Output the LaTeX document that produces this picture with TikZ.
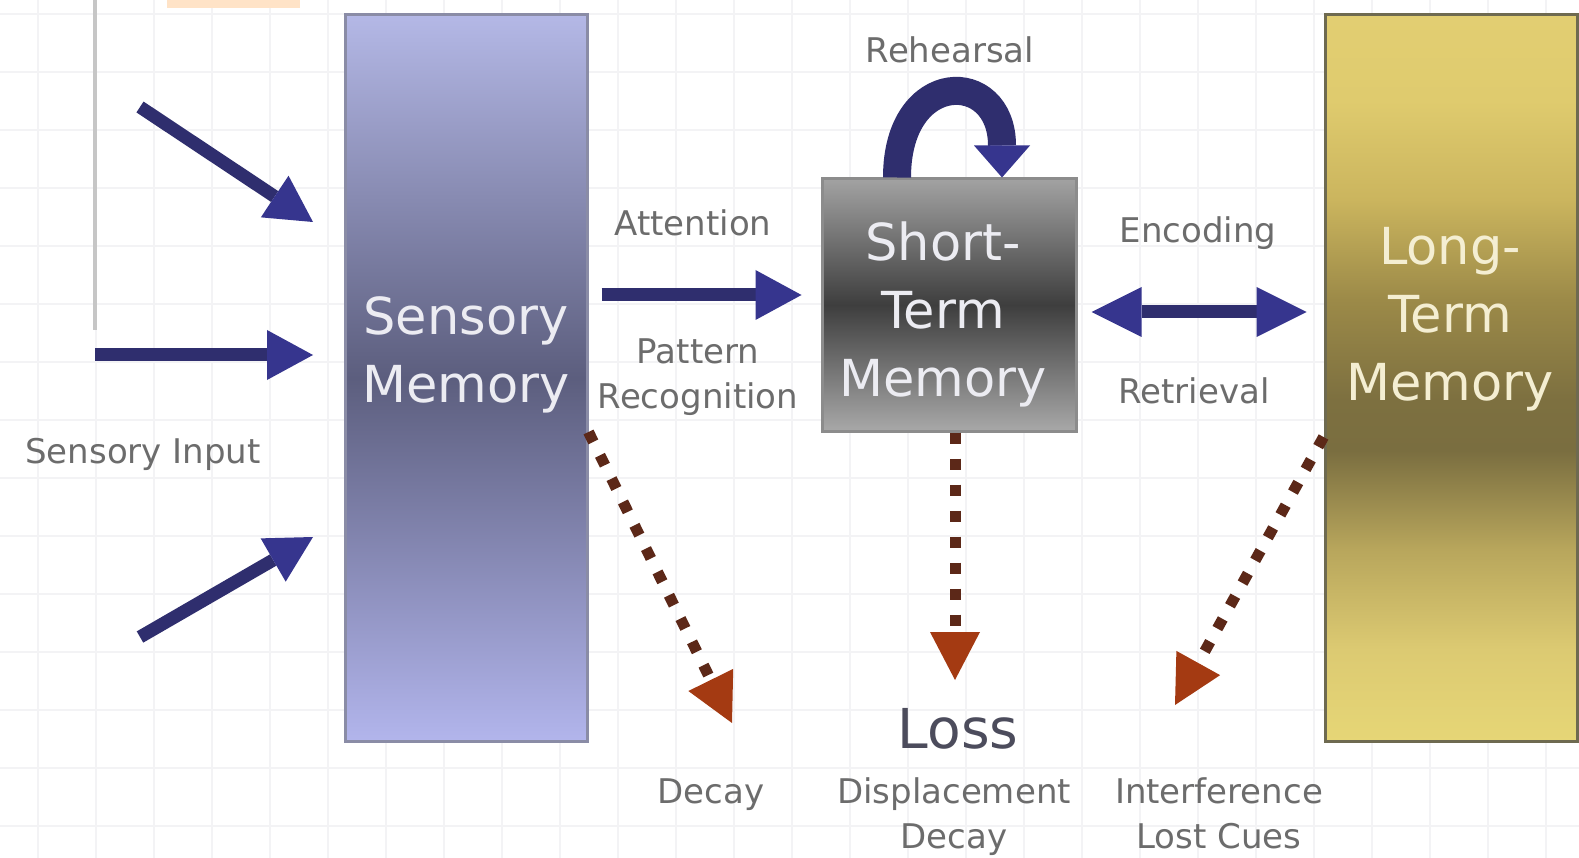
\documentclass[tikz,border=0pt]{standalone}
\usepackage{fontspec}
\setmainfont{DejaVu Sans}
\usetikzlibrary{arrows.meta,calc}
\definecolor{navy}{HTML}{2F2E6E}
\definecolor{navyhead}{HTML}{36358E}
\definecolor{dotbrown}{HTML}{5C2818}
\definecolor{rust}{HTML}{A43A12}
\definecolor{lblgray}{HTML}{6C6C6C}
\definecolor{lossgray}{HTML}{4C4C5C}
\definecolor{gridc}{HTML}{F3F3F5}
\definecolor{sensTop}{HTML}{B4B8E6}
\definecolor{sensMid}{HTML}{5C5E7E}
\definecolor{sensBot}{HTML}{B2B5EC}
\definecolor{sensEdge}{HTML}{8A8CA6}
\definecolor{stmTop}{HTML}{A2A2A2}
\definecolor{stmMid}{HTML}{3E3E3E}
\definecolor{stmBot}{HTML}{A8A8A8}
\definecolor{stmEdge}{HTML}{8C8C8C}
\definecolor{ltmEdge}{HTML}{6E6A50}
\definecolor{boxtxt}{HTML}{ECECF2}
\definecolor{ltmtxt}{HTML}{F4EED2}
\definecolor{ltmA}{HTML}{E6D676}
\definecolor{ltmB}{HTML}{DCCA72}
\definecolor{ltmC}{HTML}{B8A65C}
\definecolor{ltmD}{HTML}{7A6E40}
\definecolor{ltmE}{HTML}{7D7040}
\definecolor{ltmF}{HTML}{9C8A48}
\definecolor{ltmG}{HTML}{CBB55E}
\definecolor{ltmH}{HTML}{DFCB6E}
\definecolor{ltmI}{HTML}{E2CE72}
\pgfdeclareverticalshading{ltmshade}{100bp}{%
  color(0bp)=(ltmA); color(25bp)=(ltmA); color(31.3bp)=(ltmB); color(38.2bp)=(ltmC);
  color(45bp)=(ltmD); color(48.5bp)=(ltmE); color(55.4bp)=(ltmF); color(62.3bp)=(ltmG);
  color(69.1bp)=(ltmH); color(75bp)=(ltmI); color(100bp)=(ltmI)}
\begin{document}
\begin{tikzpicture}[x=1pt,y=-1pt,
  gridline/.style={draw=gridc, line width=1.5pt},
  lbl/.style={text=lblgray, font=\fontsize{34}{45}\selectfont, inner sep=0pt, anchor=base, align=center},
  bigtxt/.style={font=\fontsize{51}{68}\selectfont, inner sep=0pt, anchor=base, align=center},
  membox/.style={rectangle, inner sep=0pt, line width=3pt},
  navyarrow/.style={draw=navy, line width=13pt, -{Triangle[length=46pt,width=50pt,line width=0pt,color=navyhead,fill=navyhead]}},
  dblarrow/.style={draw=navy, line width=13pt, {Triangle[length=50pt,width=50pt,line width=0pt,color=navyhead,fill=navyhead]}-{Triangle[length=50pt,width=50pt,line width=0pt,color=navyhead,fill=navyhead]}},
  looparrow/.style={draw=navy, line width=28pt, -{Triangle[length=32pt,width=56pt,line width=0pt,color=navyhead,fill=navyhead]}},
  dotarrow/.style={draw=dotbrown, line width=11pt, dash pattern=on 11pt off 15pt, -{Triangle[length=48pt,width=50pt,line width=0pt,color=rust,fill=rust]}}
]
\useasboundingbox (0,0) rectangle (1579,858);
\fill[white] (0,0) rectangle (1579,858);
% faint grid
\foreach \gx in {38,96,...,1579} \draw[gridline] (\gx,0) -- (\gx,858);
\foreach \gy in {14,72,...,858} \draw[gridline] (0,\gy) -- (1579,\gy);
% top-left decorations
\fill[orange!22] (167,0) rectangle (300,8);
\draw[draw=gray!45, line width=4pt] (95,0) -- (95,330);

% memory boxes
\node[membox, draw=sensEdge, top color=sensTop, bottom color=sensBot, middle color=sensMid,
      minimum width=242pt, minimum height=726pt] (sm) at (466,378) {};
\node[membox, draw=stmEdge, top color=stmTop, bottom color=stmBot, middle color=stmMid,
      minimum width=254pt, minimum height=252pt] (stm) at (949,305) {};
\node[membox, draw=ltmEdge, shading=ltmshade,
      minimum width=252pt, minimum height=726pt] (ltm) at (1451,378) {};

\node[bigtxt, text=boxtxt] (smtext) at (466,402) {Sensory\\Memory};
\node[bigtxt, text=boxtxt] (stmtext) at (943,396) {Short-\\Term\\Memory};
\node[bigtxt, text=ltmtxt] (ltmtext) at (1450,400) {Long-\\Term\\Memory};

% labels
\node[lbl] (input) at (143,463) {Sensory Input};
\node[lbl] (attn) at (693,236) {Attention};
\node[lbl] (pattern) at (698,408) {Pattern\\Recognition};
\node[lbl] (rehearsal) at (950,63) {Rehearsal};
\node[lbl] (encoding) at (1198,243) {Encoding};
\node[lbl] (retrieval) at (1194,403) {Retrieval};
\node[text=lossgray, font=\fontsize{55}{60}\selectfont, inner sep=0pt, anchor=base] (loss) at (958,748) {Loss};
\node[lbl] (decay) at (711,803) {Decay};
\node[lbl] (displ) at (954,848) {Displacement\\Decay};
\node[lbl] (interf) at (1219,848) {Interference\\Lost Cues};

% sensory input arrows
\coordinate (in1) at (140,107);
\coordinate (in1t) at (313,222);
\coordinate (in2) at (95,355);
\coordinate (in2t) at (313,355);
\coordinate (in3) at (140,637);
\coordinate (in3t) at (313,537);
\draw[navyarrow] (in1) -- (in1t);
\draw[navyarrow] (in2) -- (in2t);
\draw[navyarrow] (in3) -- (in3t);

% attention arrow
\draw[navyarrow, shorten <=13pt, shorten >=19pt] (sm.east |- 0,295) -- (stm.west |- 0,295);
% encoding / retrieval
\draw[dblarrow, shorten <=14pt, shorten >=17pt] (stm.east |- 0,312) -- (ltm.west |- 0,312);
% rehearsal loop
\draw[looparrow] (stm.north -| 897,0) .. controls (897,68) and (1002,68) .. (stm.north -| 1002,0);

% loss arrows
\coordinate (decaytip) at (732,723);
\coordinate (losstip) at (955,680);
\coordinate (interftip) at (1175,705);
\draw[dotarrow] (sm.east |- 0,432) -- (decaytip);
\draw[dotarrow] (stm.south -| losstip) -- (losstip);
\draw[dotarrow] (ltm.west |- 0,437) -- (interftip);
\end{tikzpicture}
\end{document}
